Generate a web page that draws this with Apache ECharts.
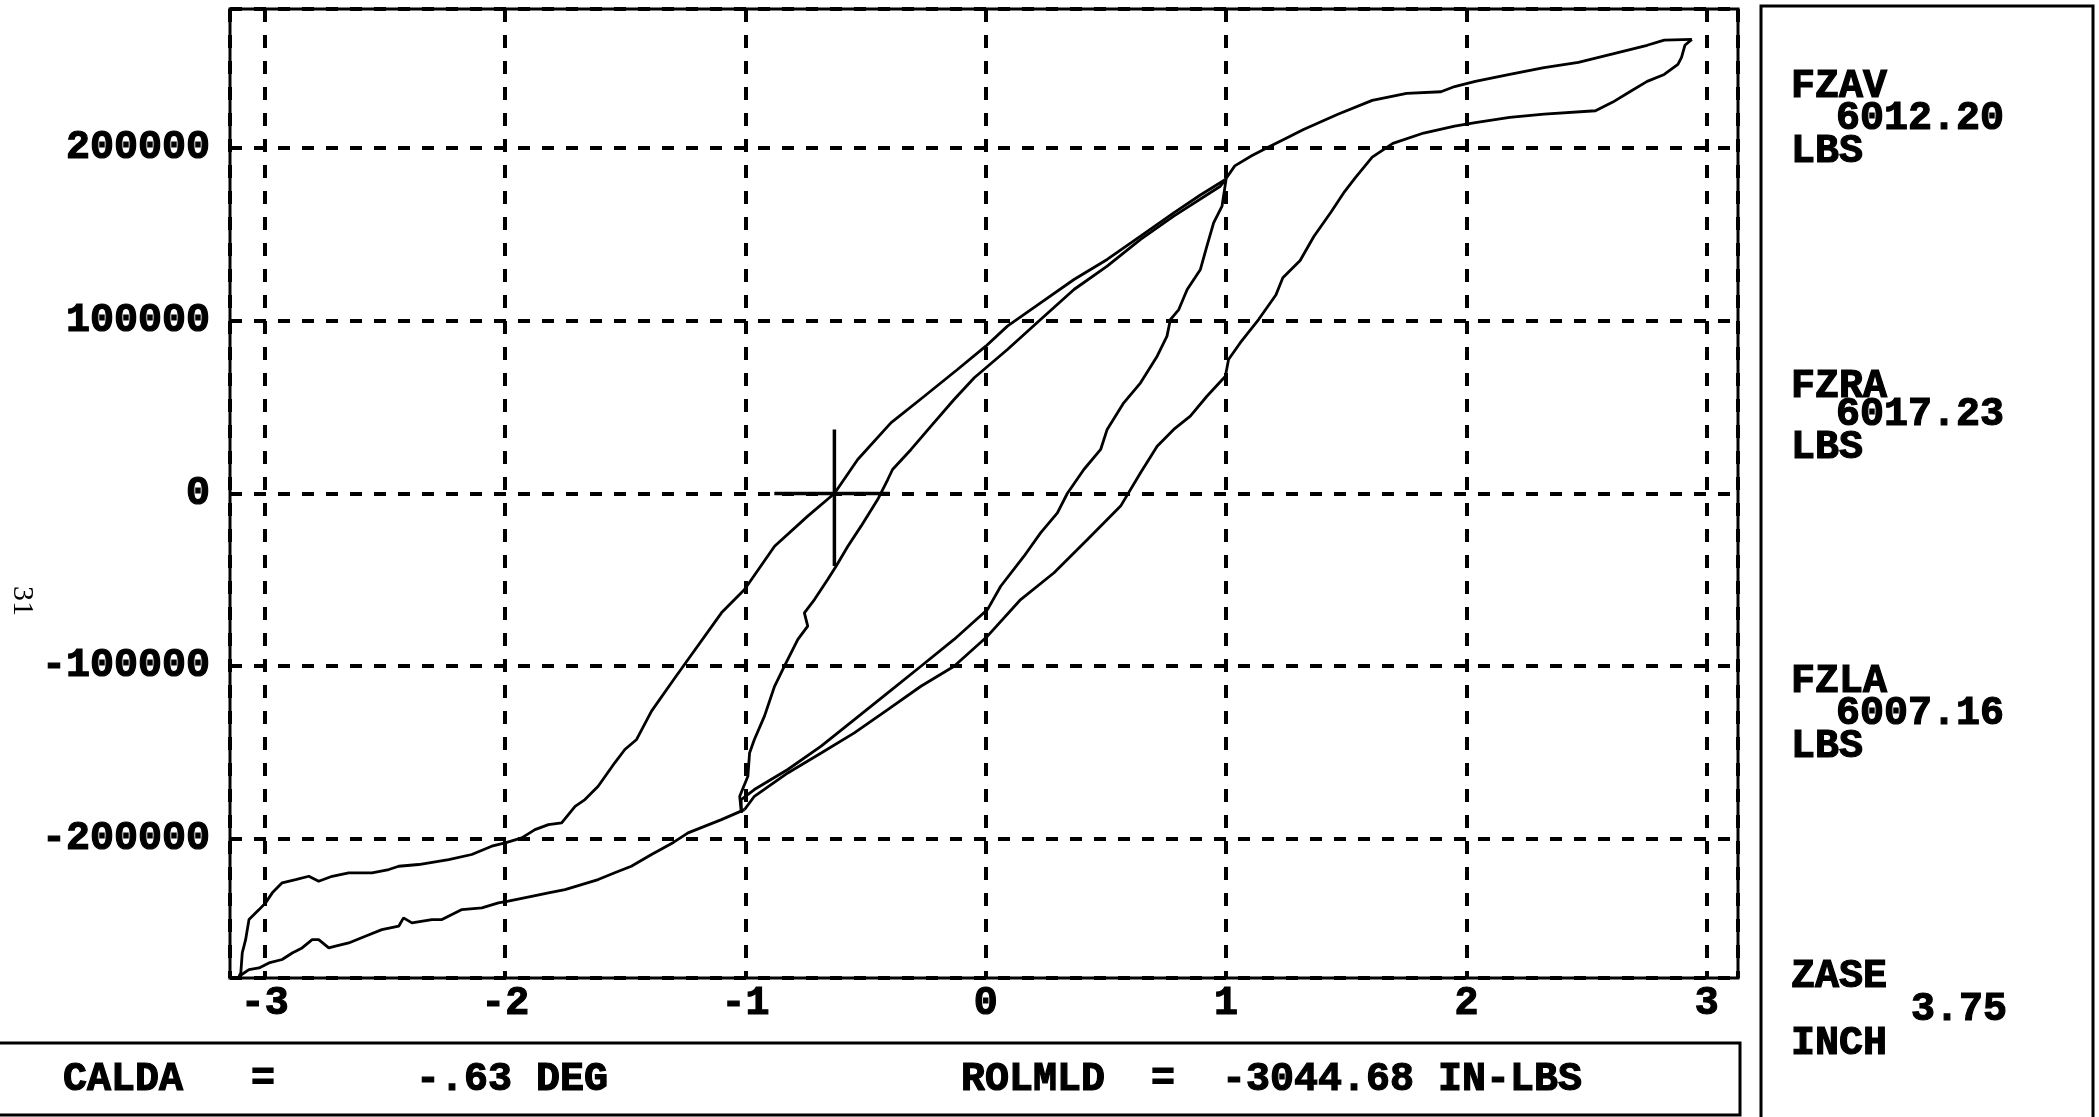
<!DOCTYPE html>
<html>
<head>
<meta charset="utf-8">
<script src="https://cdn.jsdelivr.net/npm/echarts@6/dist/echarts.min.js"></script>
<style>
  html, body { margin: 0; padding: 0; background: #fff; }
  #chart { width: 2099px; height: 1117px; }
</style>
</head>
<body>
<div id="chart"></div>
<script>
// tick values on the two axes
const xTicks = [-3, -2, -1, 0, 1, 2, 3];
const yTicks = [-200000, -100000, 0, 100000, 200000];

// outer loop, rising part from the lower-left corner to x = -1
const outerRiseLeft = [
  [-3.107, -279500], [-3.066, -275600], [-3.024, -274700], [-2.983, -271800], [-2.928, -269800],
  [-2.886, -266000], [-2.845, -263100], [-2.803, -258300], [-2.776, -258300], [-2.734, -263100],
  [-2.706, -262100], [-2.651, -260200], [-2.582, -256300], [-2.513, -252500], [-2.443, -250500],
  [-2.423, -245700], [-2.388, -248600], [-2.305, -246700], [-2.263, -246700], [-2.18, -240900],
  [-2.097, -239900], [-2.028, -237000], [-1.987, -236000], [-1.89, -233200], [-1.82, -231200],
  [-1.751, -229300], [-1.682, -226400], [-1.613, -223500], [-1.544, -219600], [-1.475, -215800],
  [-1.391, -209000], [-1.30, -202000], [-1.239, -196500], [-1.1, -188800], [-1.004, -183000]
];

// outer loop, rising part from x = -1 up to the tip at x ~ 2.94
const outerRise = [
  [-1.004, -183000], [-0.963, -175300], [-0.824, -161800], [-0.685, -150200], [-0.547, -138600],
  [-0.408, -125100], [-0.27, -111600], [-0.132, -100000], [0.007, -82600], [0.145, -61400],
  [0.284, -45900], [0.423, -26600], [0.561, -7300], [0.644, 12000], [0.713, 27400],
  [0.782, 37100], [0.851, 44800], [0.92, 56300], [0.997, 67900], [1.01, 77600],
  [1.059, 87300], [1.135, 100700], [1.207, 114900], [1.236, 124900], [1.308, 134900],
  [1.365, 148800], [1.436, 162800], [1.493, 174800], [1.537, 182700], [1.608, 194700],
  [1.694, 202700], [1.822, 208700], [1.951, 212700], [2.037, 214700], [2.18, 217700],
  [2.323, 219600], [2.537, 221600], [2.609, 226600], [2.68, 232600], [2.752, 238600],
  [2.823, 242600], [2.88, 248500], [2.895, 252500], [2.909, 259500], [2.938, 262900]
];

// outer loop, falling part from the tip back to the lower-left corner
const outerFall = [
  [2.938, 262900], [2.823, 262500], [2.752, 259500], [2.609, 254500], [2.466, 249600],
  [2.323, 246600], [2.18, 242600], [2.037, 238600], [1.951, 235600], [1.894, 232600],
  [1.751, 231600], [1.608, 227600], [1.465, 219600], [1.322, 210700], [1.25, 205700],
  [1.179, 200700], [1.108, 195700], [1.036, 189700], [0.997, 181800], [0.893, 172800],
  [0.782, 162500], [0.644, 149000], [0.505, 135500], [0.367, 123900], [0.228, 110400],
  [0.09, 96900], [0.0, 85300], [-0.118, 71800], [-0.256, 56300], [-0.395, 40900],
  [-0.533, 19700], [-0.63, 0], [-0.741, -13100], [-0.879, -30500], [-1.004, -55600],
  [-1.1, -69100], [-1.239, -96100], [-1.30, -108000], [-1.391, -126000], [-1.453, -142400],
  [-1.502, -148200], [-1.544, -155900], [-1.613, -169500], [-1.668, -177200], [-1.709, -181100],
  [-1.765, -190700], [-1.82, -191700], [-1.876, -194600], [-1.931, -199400], [-2.0, -202300],
  [-2.056, -204200], [-2.139, -209000], [-2.235, -211900], [-2.36, -214800], [-2.443, -215800],
  [-2.484, -217700], [-2.554, -219600], [-2.651, -219600], [-2.72, -221600], [-2.776, -224500],
  [-2.817, -221600], [-2.872, -223500], [-2.928, -225400], [-2.969, -231200], [-2.997, -237000],
  [-3.024, -240900], [-3.066, -246700], [-3.08, -258300], [-3.094, -266000], [-3.1, -277500],
  [-3.107, -279500]
];

// inner loop (+/- 1 inch)
const innerRise = [
  [-1.017, -184900], [-1.024, -175300], [-0.99, -163700], [-0.983, -150200], [-0.963, -142400],
  [-0.921, -128900], [-0.879, -111600], [-0.838, -100000], [-0.782, -84500], [-0.741, -76800],
  [-0.755, -69100], [-0.713, -61400], [-0.658, -49800], [-0.623, -42100], [-0.574, -30500],
  [-0.519, -18900], [-0.45, -3500], [-0.408, 8100], [-0.388, 13900], [-0.311, 25500],
  [-0.228, 39000], [-0.132, 54400], [-0.048, 67000], [0.09, 83400], [0.228, 100700],
  [0.367, 118100], [0.505, 131600], [0.644, 147100], [0.782, 160600], [0.976, 177900],
  [1.0, 182000]
];

const innerFall = [
  [1.0, 182000], [0.983, 166400], [0.948, 156700], [0.92, 143200], [0.893, 129700],
  [0.838, 118100], [0.803, 106500], [0.768, 100700], [0.754, 91100], [0.713, 79500],
  [0.644, 64100], [0.574, 52500], [0.505, 37100], [0.478, 25500], [0.408, 13900],
  [0.339, 0], [0.298, -11200], [0.228, -22800], [0.159, -36300], [0.062, -53700],
  [0.007, -67200], [-0.132, -84500], [-0.27, -100000], [-0.408, -115400], [-0.547, -130900],
  [-0.685, -146300], [-0.824, -159800], [-0.963, -171400], [-1.018, -177200], [-1.017, -184900]
];

// cross mark at CALDA
const crossH = [[-0.88, 0], [-0.40, 0]];
const crossV = [[-0.63, 37000], [-0.63, -42000]];

// readouts
const panelNames = ['FZAV', 'FZRA', 'FZLA', 'ZASE'];
const panelValues = ['6012.20', '6017.23', '6007.16', '3.75'];
const panelUnits = ['LBS', 'LBS', 'LBS', 'INCH'];
const footTexts = ['CALDA', '=', '-.63 DEG', 'ROLMLD', '=', '-3044.68 IN-LBS'];

const MONO = 'bold 40px "Liberation Mono", "DejaVu Sans Mono", monospace';

const chart = echarts.init(document.getElementById('chart'));

function curve(data, width) {
  return {
    type: 'line',
    data: data,
    showSymbol: false,
    symbol: 'none',
    smooth: false,
    lineStyle: { color: '#000', width: width || 2.8 },
    z: 3
  };
}

function txt(text, x, y) {
  return {
    type: 'text',
    x: x,
    y: y,
    style: {
      text: text,
      font: MONO,
      fill: '#000',
      stroke: '#000',
      lineWidth: 1.2,
      verticalAlign: 'middle'
    }
  };
}

// positions of the side panel rows
const panelRows = [[87, 119, 152], [387, 415, 448], [682, 714, 747], [977, 1010, 1044]];
const panelValueX = [1836, 1836, 1836, 1911];
const footX = [63, 251, 416, 961, 1151, 1222];

const graphics = [
  {
    type: 'rect',
    shape: { x: 1761, y: 6, width: 332, height: 1140 },
    style: { fill: 'none', stroke: '#000', lineWidth: 3 }
  },
  {
    type: 'rect',
    shape: { x: -10, y: 1043, width: 1750, height: 72 },
    style: { fill: 'none', stroke: '#000', lineWidth: 3 }
  },
  {
    type: 'text',
    x: 22,
    y: 601,
    rotation: -Math.PI / 2,
    style: {
      text: '31',
      font: '30px "Liberation Serif", serif',
      fill: '#000',
      align: 'center',
      verticalAlign: 'middle'
    }
  }
];
panelNames.forEach(function (name, i) {
  graphics.push(txt(name, 1791, panelRows[i][0]));
  graphics.push(txt(panelValues[i], panelValueX[i], panelRows[i][1]));
  graphics.push(txt(panelUnits[i], 1791, panelRows[i][2]));
});
footTexts.forEach(function (t, i) {
  graphics.push(txt(t, footX[i], 1080));
});

const labelStyle = {
  color: '#000',
  fontFamily: '"Liberation Mono", "DejaVu Sans Mono", monospace',
  fontWeight: 'bold',
  fontSize: 40,
  textBorderColor: '#000',
  textBorderWidth: 1.2
};

const option = {
  animation: false,
  backgroundColor: '#fff',
  grid: {
    left: 230,
    right: 361,
    top: 9,
    bottom: 139,
    show: true,
    borderColor: '#000',
    borderWidth: 3,
    containLabel: false
  },
  xAxis: {
    type: 'value',
    min: -3.145,
    max: 3.13,
    minInterval: 1,
    maxInterval: 1,
    axisLine: { show: false },
    axisTick: { show: false },
    splitLine: {
      show: true,
      lineStyle: { color: '#000', width: 4, type: [13, 13] }
    },
    axisLabel: Object.assign({
      margin: 6,
      formatter: function (v) {
        return xTicks.indexOf(v) >= 0 ? String(v) : '';
      }
    }, labelStyle)
  },
  yAxis: {
    type: 'value',
    min: -280500,
    max: 280500,
    minInterval: 100000,
    maxInterval: 100000,
    axisLine: { show: false },
    axisTick: { show: false },
    splitLine: {
      show: true,
      lineStyle: { color: '#000', width: 4, type: [12, 12] }
    },
    axisLabel: Object.assign({
      margin: 20,
      formatter: function (v) {
        return yTicks.indexOf(v) >= 0 ? String(v) : '';
      }
    }, labelStyle)
  },
  series: [
    curve(outerRiseLeft),
    curve(outerRise),
    curve(outerFall),
    curve(innerRise),
    curve(innerFall),
    curve(crossH, 3.5),
    curve(crossV, 3.5)
  ],
  graphic: graphics
};

chart.setOption(option);
</script>
</body>
</html>
